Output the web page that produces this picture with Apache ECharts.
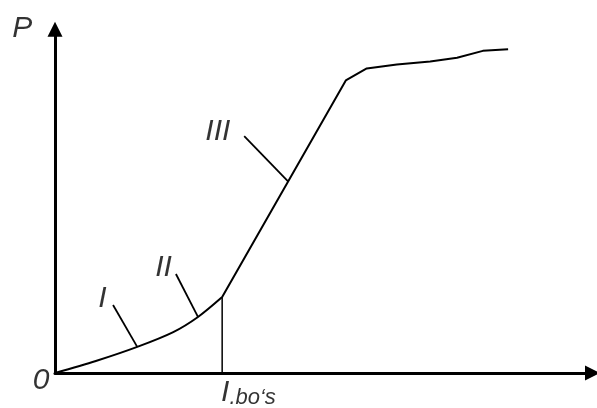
<!DOCTYPE html>
<html>
<head>
<meta charset="utf-8">
<script src="https://cdn.jsdelivr.net/npm/echarts@6/dist/echarts.min.js"></script>
<style>
  html, body { margin: 0; padding: 0; background: #fff; }
  #chart { width: 597px; height: 408px; }
</style>
</head>
<body>
<div id="chart"></div>
<script>
// Load–deformation curve: stage I/II (curved), stage III (straight), then plateau
const curveX = [0, 0.76, 1.53, 2.2, 2.66, 3.11];
const curveY = [0, 0.35, 0.76, 1.19, 1.63, 2.21];
const upperX = [3.11, 5.41, 5.8, 6.36, 6.98, 7.48, 7.96, 8.43];
const upperY = [2.21, 8.51, 8.86, 8.97, 9.06, 9.17, 9.37, 9.42];

// Vertical drop from the end of stage II to the axis
const dropX = [3.11, 3.11];
const dropY = [0, 2.21];

// Leader lines from stage names to the curve
const leaderIX = [1.08, 1.53];
const leaderIY = [1.98, 0.76];
const leaderIIX = [2.25, 2.66];
const leaderIIY = [2.88, 1.63];
const leaderIIIX = [3.52, 4.34];
const leaderIIIY = [6.89, 5.57];

// Text annotations
const labelNames = ['P', '0', 'I', 'II', 'III'];
const labelX = [-0.61, -0.26, 0.88, 2.02, 3.03];
const labelY = [10.02, -0.23, 2.17, 3.07, 7.02];
const limitLabelAt = [3.08, -0.61];

const zip = (xs, ys) => xs.map((x, i) => [x, ys[i]]);

const FONT = 'Liberation Sans';

const lineSeries = (xs, ys, width, smooth) => ({
  type: 'line',
  data: zip(xs, ys),
  showSymbol: false,
  symbol: 'none',
  smooth: smooth || false,
  clip: false,
  lineStyle: { color: '#000', width: width },
  silent: true
});

const chart = echarts.init(document.getElementById('chart'), null, { renderer: 'canvas' });

const axisCommon = {
  type: 'value',
  min: 0,
  max: 10,
  axisLine: {
    show: true,
    lineStyle: { color: '#000', width: 3 },
    symbol: ['none', 'triangle'],
    symbolSize: [15, 15]
  },
  axisTick: { show: false },
  axisLabel: { show: false },
  splitLine: { show: false }
};

chart.setOption({
  animation: false,
  backgroundColor: '#fff',
  grid: { left: 55, right: 4.5, top: 29.2, bottom: 35 },
  xAxis: axisCommon,
  yAxis: axisCommon,
  series: [
    lineSeries(curveX, curveY, 2, 0.3),
    lineSeries(upperX, upperY, 2, false),
    lineSeries(dropX, dropY, 1.5, false),
    lineSeries(leaderIX, leaderIY, 1.8, false),
    lineSeries(leaderIIX, leaderIIY, 1.8, false),
    lineSeries(leaderIIIX, leaderIIIY, 1.8, false),
    {
      type: 'scatter',
      clip: false,
      silent: true,
      symbolSize: 1,
      itemStyle: { color: 'rgba(0,0,0,0)' },
      label: {
        show: true,
        position: 'inside',
        color: '#000',
        fontFamily: FONT,
        fontStyle: 'italic',
        fontSize: 30,
        formatter: p => p.name
      },
      data: labelNames.map((n, i) => ({ name: n, value: [labelX[i], labelY[i]] }))
    },
    {
      type: 'scatter',
      clip: false,
      silent: true,
      symbolSize: 1,
      itemStyle: { color: 'rgba(0,0,0,0)' },
      label: {
        show: true,
        position: 'right',
        distance: 0,
        color: '#000',
        fontFamily: FONT,
        fontStyle: 'italic',
        formatter: '{a|I}{b|.bo\u2018s}',
        rich: {
          a: { fontSize: 30, lineHeight: 30, fontFamily: FONT, fontStyle: 'italic', verticalAlign: 'bottom', padding: [0, 0, 1, 0] },
          b: { fontSize: 22, lineHeight: 22, fontFamily: FONT, fontStyle: 'italic', verticalAlign: 'bottom' }
        }
      },
      data: [{ value: limitLabelAt }]
    }
  ]
});
</script>
</body>
</html>
